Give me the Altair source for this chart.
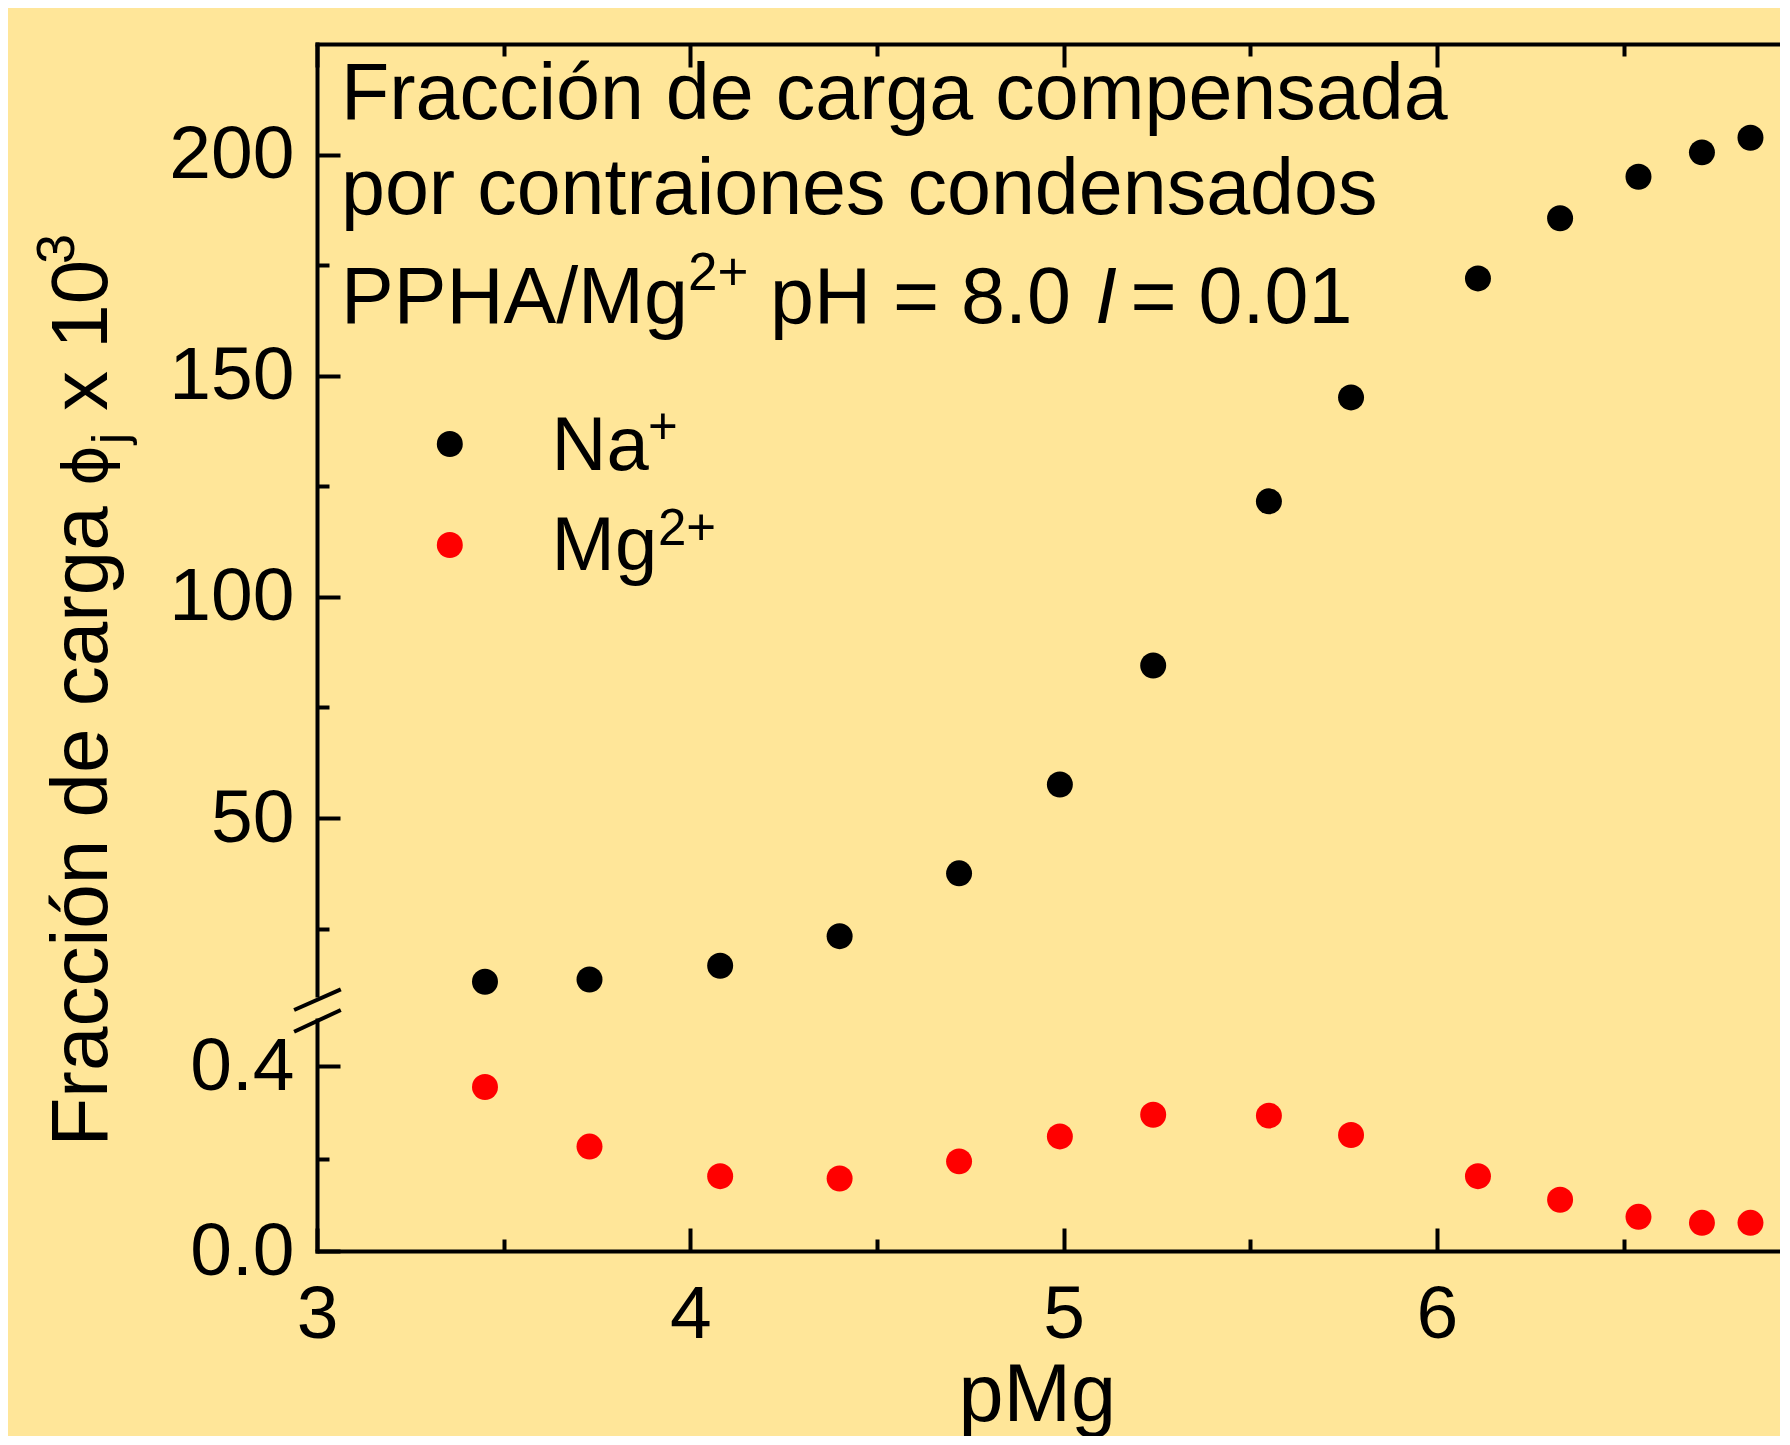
import altair as alt
import pandas as pd

# ---------------- data ----------------
pmg = [3.45, 3.73, 4.08, 4.40, 4.72, 4.99, 5.24, 5.55, 5.77, 6.11, 6.33, 6.54, 6.71, 6.84]
na_phi = [13.0, 13.5, 16.6, 23.3, 37.5, 57.6, 84.5, 121.6, 145.1, 172.0, 185.6, 195.0, 200.5, 203.8]
mg_phi = [0.355, 0.226, 0.162, 0.157, 0.194, 0.248, 0.295, 0.293, 0.251, 0.162, 0.111, 0.074, 0.061, 0.061]

x_major = [3, 4, 5, 6]
x_minor = [3.5, 4.5, 5.5, 6.5]
up_major = [50, 100, 150, 200]
up_minor = [25, 75, 125, 175]
lo_major = [0.0, 0.4]
lo_minor = [0.2]

title_lines = ["Fracción de carga compensada", "por contraiones condensados"]
line3 = ["PPHA/Mg", "2+", "pH = 8.0", "I", "= 0.01"]
legend_labels = [("Na", "+"), ("Mg", "2+")]
ytitle = ["Fracción de carga", "ϕ", "j", "x 10", "3"]

df_na = pd.DataFrame({"pMg": pmg, "phi": na_phi})
df_mg = pd.DataFrame({"pMg": pmg, "phi": mg_phi})
one = pd.DataFrame({"k": [0]})

FONT = "Liberation Sans"
BG = "#FFE699"
W, H_UP, H_LO = 1463, 951, 231
MAJOR, MINOR = 23, 12
PT = 675
TICKFS = 75

x_scale = alt.Scale(domain=[3, 3 + W / 373.3], nice=False, zero=False)
y_up = alt.Scale(domain=[10, 225], nice=False, zero=False)
y_lo = alt.Scale(domain=[0, 0.5], nice=False, zero=False)


def axis(orient, kind, values=None, **kw):
    d = dict(orient=orient, grid=False, title=None, labelFlush=False)
    if kind == "line":
        d.update(domain=True, ticks=False, labels=False)
    elif kind == "major":
        d.update(domain=False, ticks=True, tickSize=MAJOR, offset=-MAJOR, labels=False, values=values)
    else:
        d.update(domain=False, ticks=True, tickSize=MINOR, offset=-MINOR, labels=False, values=values)
    d.update(kw)
    return alt.Axis(**d)


def points(df, color, yscale, xax, yax, opacity=1.0):
    return alt.Chart(df).mark_circle(size=PT, color=color, opacity=opacity).encode(
        x=alt.X("pMg:Q", scale=x_scale, axis=xax),
        y=alt.Y("phi:Q", scale=yscale, axis=yax),
    )


def txt(s, px, py, size, angle=None, style="normal", font=FONT):
    kw = dict(align="left", baseline="alphabetic", font=font, fontSize=size,
              color="black", fontStyle=style)
    if angle is not None:
        kw["angle"] = angle
    return alt.Chart(one).mark_text(**kw).encode(
        x=alt.value(px), y=alt.value(py), text=alt.value(s))


def dot(color, px, py):
    return alt.Chart(one).mark_circle(size=PT, color=color, opacity=1).encode(
        x=alt.value(px), y=alt.value(py))


def rule(x1, y1, x2, y2):
    return alt.Chart(one).mark_rule(color="black", strokeWidth=4).encode(
        x=alt.value(x1), y=alt.value(y1), x2=alt.value(x2), y2=alt.value(y2))


# ---------------- upper panel (Na+) ----------------
up_layers = [
    points(df_na, "black", y_up, axis("top", "line"), axis("left", "line")),
    points(df_na, "black", y_up, axis("top", "major", x_major),
           axis("left", "major", up_major, labels=True, labelPadding=23, format="d"), 0.0),
    points(df_na, "black", y_up, axis("top", "minor", x_minor),
           axis("left", "minor", up_minor), 0.0),
    # annotation block
    txt(title_lines[0], 24, 74.5, 79),
    txt(title_lines[1], 24, 169.5, 79),
    txt(line3[0], 24, 278.7, 79),
    txt(line3[1], 371, 246, 53),
    txt(line3[2], 453, 278.7, 79),
    txt(line3[3], 778, 278.7, 79, style="italic"),
    txt(line3[4], 813.5, 278.7, 79),
    # legend
    dot("black", 132.8, 400),
    dot("red", 132.8, 501),
    txt(legend_labels[0][0], 234.6, 426, 76),
    txt(legend_labels[0][1], 331, 400, 51),
    txt(legend_labels[1][0], 234.6, 526, 76),
    txt(legend_labels[1][1], 341, 501, 51),
    # y-axis title pieces (rotated)
    txt(ytitle[0], -210.2, 1102.5, 80, angle=270),
    txt(ytitle[1], -210.2, 442, 62, angle=270, font="DejaVu Sans"),
    txt(ytitle[2], -190, 400, 50, angle=270),
    txt(ytitle[3], -210.2, 367, 80, angle=270),
    txt(ytitle[4], -243.2, 220, 54, angle=270),
]
upper = alt.layer(*up_layers).resolve_axis(x="independent", y="independent").properties(
    width=W, height=H_UP)

# ---------------- lower panel (Mg2+) ----------------
lo_layers = [
    points(df_mg, "red", y_lo,
           axis("bottom", "line", title="pMg", titleX=719.8, titleY=169,
                titleBaseline="alphabetic", titleAlign="center"),
           axis("left", "line")),
    points(df_mg, "red", y_lo,
           axis("bottom", "major", x_major, labels=True, labelPadding=27, format="d"),
           axis("left", "major", lo_major, labels=True, labelPadding=23, format=".1f"), 0.0),
    points(df_mg, "red", y_lo, axis("bottom", "minor", x_minor),
           axis("left", "minor", lo_minor), 0.0),
    # axis break marks
    rule(-22.9, -10, 23.8, -30.7),
    rule(-22.9, 11.7, 23.8, -10),
]
lower = alt.layer(*lo_layers).resolve_axis(x="independent", y="independent").properties(
    width=W, height=H_LO)

chart = alt.vconcat(
    upper, lower, spacing=25, bounds="flush",
    padding={"left": 22, "top": 34, "right": 0, "bottom": 0},
    background=BG,
).configure_view(stroke=None).configure_axis(
    labelFont=FONT, labelFontSize=TICKFS, labelColor="black",
    titleFont=FONT, titleFontSize=81, titleFontWeight="normal", titleColor="black",
    tickColor="black", tickWidth=4, domainColor="black", domainWidth=4, domainCap="square",
)

chart.save("out.html", embed_options={"renderer": "svg", "actions": False})
